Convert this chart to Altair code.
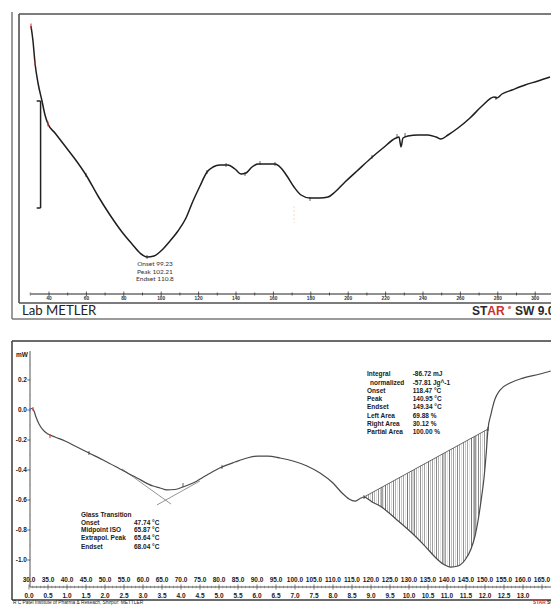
import altair as alt
import numpy as np
import pandas as pd

# ---------------- upper thermogram (Lab METLER) ----------------
top_temp = [30.37, 31.44, 32.51, 34.12, 36.26, 37.86, 39.47, 43.21, 48.56, 53.90, 59.79, 66.20,
            72.62, 79.04, 84.39, 88.66, 92.41, 96.15, 100.43, 104.71, 108.98, 113.26, 117.01,
            120.75, 124.49, 127.70, 131.44, 135.72, 139.47, 142.67, 145.35, 148.56, 151.76,
            156.04, 160.86, 164.06, 167.27, 171.02, 174.76, 179.57, 184.92, 189.20, 192.94,
            198.29, 204.71, 211.66, 218.61, 225.56, 227.17, 228.24, 229.30, 231.98, 237.33,
            242.67, 246.95, 249.63, 253.37, 258.72, 265.13, 271.55, 277.97, 279.57, 282.25,
            287.59, 294.55, 301.50, 307.92]
top_flow = [3.50, 3.20, 2.76, 2.36, 2.00, 1.72, 1.54, 1.36, 1.10, 0.84, 0.52, 0.10,
            -0.28, -0.62, -0.86, -1.04, -1.12, -1.10, -0.98, -0.80, -0.60, -0.34, 0.00,
            0.30, 0.58, 0.68, 0.72, 0.72, 0.64, 0.54, 0.56, 0.68, 0.74,
            0.74, 0.74, 0.66, 0.50, 0.28, 0.12, 0.06, 0.06, 0.08, 0.18,
            0.38, 0.60, 0.84, 1.06, 1.26, 1.28, 1.08, 1.26, 1.30, 1.32,
            1.32, 1.28, 1.24, 1.32, 1.46, 1.66, 1.90, 2.08, 2.06, 2.14,
            2.22, 2.32, 2.40, 2.48]
top_marks_red = [(30.37, 3.50), (32.51, 2.76), (39.47, 1.54)]
top_marks = [(59.79, 0.52), (92.41, -1.12), (124.49, 0.58), (134.65, 0.72), (144.81, 0.54),
             (152.83, 0.76), (160.86, 0.74), (179.57, 0.04), (212.7, 0.88), (226.1, 1.30),
             (230.4, 1.32), (279.0, 2.06)]
top_tick_major = list(range(40, 301, 20))
top_tick_minor = list(range(30, 300, 20))
top_peak_text = ["Onset 99.23", "Peak  102.21", "Endset 110.8"]

# ---------------- lower DSC curve ----------------
bot_temp = [30.26, 30.79, 31.32, 31.84, 32.63, 33.68, 35.00, 36.84, 39.47, 42.63, 45.79, 50.00,
            53.95, 58.42, 62.63, 64.47, 66.32, 68.42, 70.53, 73.16, 76.84, 80.79, 84.21, 87.37,
            90.26, 92.89, 96.05, 99.47, 103.16, 106.58, 110.00, 112.37, 114.21, 115.79, 117.11,
            118.16, 120.26, 122.37, 126.84, 131.05, 134.21, 136.84, 138.95, 141.05, 142.89,
            144.74, 146.32, 147.37, 148.16, 148.95, 149.74, 150.26, 150.79, 151.58, 152.63,
            153.95, 156.58, 160.00, 164.47, 167.30]
bot_flow = [0.007, 0.010, -0.007, -0.047, -0.093, -0.133, -0.160, -0.180, -0.207, -0.247, -0.287,
            -0.340, -0.393, -0.453, -0.507, -0.520, -0.533, -0.530, -0.513, -0.487, -0.433, -0.380,
            -0.347, -0.320, -0.307, -0.307, -0.320, -0.340, -0.373, -0.420, -0.487, -0.553, -0.593,
            -0.607, -0.590, -0.580, -0.613, -0.640, -0.733, -0.827, -0.907, -0.980, -1.027, -1.047,
            -1.040, -1.000, -0.927, -0.840, -0.740, -0.607, -0.453, -0.307, -0.127, -0.027, 0.073,
            0.133, 0.180, 0.213, 0.240, 0.260]
base_temp = [118.16, 150.79]
base_flow = [-0.580, -0.127]
tangent_a = [(54.47, -0.393), (67.37, -0.627)]
tangent_b = [(63.68, -0.633), (75.00, -0.473)]
y_ticks = [0.2, 0.0, -0.2, -0.4, -0.6, -0.8, -1.0]
y_minor = [0.3, 0.1, -0.1, -0.3, -0.5, -0.7, -0.9, -1.1]
temp_labels = [30 + 5 * i for i in range(28)]
min_labels = [0.5 * i for i in range(27)]
glass_names = ["Glass Transition", "Onset", "Midpoint ISO", "Extrapol. Peak", "Endset"]
glass_vals = ["", "47.74 °C", "65.87 °C", "65.64 °C", "68.04 °C"]
integ_names = ["Integral", "normalized", "Onset", "Peak", "Endset", "Left Area", "Right Area",
               "Partial Area"]
integ_vals = ["-86.72 mJ", "-57.81 Jg^-1", "118.47 °C", "140.95 °C", "149.34 °C", "69.88 %",
              "30.12 %", "100.00 %"]

# ---------------- scales ----------------
TX = alt.Scale(domain=[19.679, 308.45], nice=False, zero=False)
TY = alt.Scale(domain=[-2.38, 3.78], nice=False, zero=False)
BX = alt.Scale(domain=[25.263, 167.368], nice=False, zero=False)
BY = alt.Scale(domain=[-1.30, 0.4667], nice=False, zero=False)


def pos(xs, ys):
    return dict(x=alt.X("x:Q", scale=xs, axis=None), y=alt.Y("y:Q", scale=ys, axis=None))


def segs(rows, xs, ys, **mk):
    df = pd.DataFrame(rows, columns=["x", "y", "x2", "y2"])
    return alt.Chart(df).mark_rule(**mk).encode(x2="x2:Q", y2="y2:Q", **pos(xs, ys))


def texts(rows, xs, ys, **mk):
    df = pd.DataFrame(rows, columns=["x", "y", "t"])
    return alt.Chart(df).mark_text(**mk).encode(text="t:N", **pos(xs, ys))


def ticks(rows, xs, ys, **mk):
    df = pd.DataFrame(rows, columns=["x", "y"])
    return alt.Chart(df).mark_tick(**mk).encode(**pos(xs, ys))


def curve(ts, vs, xs, ys, **mk):
    df = pd.DataFrame({"x": ts, "y": vs})
    return alt.Chart(df).mark_line(**mk).encode(**pos(xs, ys))


# ---------------- upper panel ----------------
XMAX_T = 308.45
top_layers = [
    segs([(20.214, 3.78, 20.214, -2.36), (20.214, -2.36, XMAX_T, -2.36)], TX, TY,
         color="#7a7a7a", strokeWidth=1.5),
    segs([(23.957, 3.74, XMAX_T, 3.74), (23.957, 3.74, 23.957, -2.04),
          (23.957, -2.04, XMAX_T, -2.04)], TX, TY, color="#505050", strokeWidth=1.6),
    segs([(30.37, -1.86, XMAX_T, -1.86)], TX, TY, color="#222222", strokeWidth=1),
    ticks([(t, -1.86) for t in top_tick_major], TX, TY, orient="vertical", size=5,
          thickness=1, color="#222222"),
    ticks([(t, -1.86) for t in top_tick_minor], TX, TY, orient="vertical", size=3,
          thickness=1, color="#222222"),
    texts([(t, -1.965, str(t)) for t in top_tick_major], TX, TY, font="Liberation Sans",
          fontSize=4.8, fontWeight="bold", color="#333333", align="center", baseline="middle"),
    segs([(35.50, 2.0, 35.50, -0.14), (33.42, 2.0, 35.50, 2.0), (33.42, -0.14, 35.50, -0.14)],
         TX, TY, color="#222222", strokeWidth=1.5),
    segs([(171.02, -0.10, 171.02, -0.44)], TX, TY, color="#f6dcc0", strokeWidth=1,
         strokeDash=[2, 2]),
    curve(top_temp, top_flow, TX, TY, color="#1e1e1e", strokeWidth=1.5, interpolate="monotone",
          clip=True),
    ticks(top_marks, TX, TY, orient="vertical", size=4, thickness=1, color="#222222"),
    ticks(top_marks_red, TX, TY, orient="vertical", size=5, thickness=1.5, color="#dd3333"),
    texts([(96.68, -1.26 - 0.15 * i, s) for i, s in enumerate(top_peak_text)], TX, TY,
          font="Lato", fontSize=6.5, color="#333333", align="center", baseline="middle"),
    texts([(25.56, -2.20, "Lab METLER")], TX, TY, font="Lato", fontSize=13.2,
          color="#222222", align="left", baseline="middle"),
    texts([(274.4, -2.19, "ST")], TX, TY, font="Liberation Sans", fontSize=12,
          fontWeight="bold", color="#2a2a2a", align="right", baseline="middle"),
    texts([(274.4, -2.19, "AR")], TX, TY, font="Liberation Sans", fontSize=12,
          fontWeight="bold", color="#c8302c", align="left", baseline="middle"),
    texts([(285.4, -2.11, "e")], TX, TY, font="Liberation Sans", fontSize=6,
          fontWeight="bold", color="#c8302c", align="left", baseline="middle"),
    texts([(289.2, -2.19, "SW 9.01")], TX, TY, font="Liberation Sans", fontSize=12,
          fontWeight="bold", color="#2a2a2a", align="left", baseline="middle", clip=True),
]
top = alt.layer(*top_layers).properties(width=540, height=308)

# ---------------- lower panel ----------------
XMAX_B = 167.368
bdf = pd.DataFrame({"x": bot_temp, "y": bot_flow})
peak = bdf[(bdf.x >= base_temp[0]) & (bdf.x <= base_temp[1])].copy()
peak["y2"] = np.interp(peak.x, base_temp, base_flow)

hatch_grays = ["#767676", "#bdbdbd", "#9c9c9c", "#d6d6d6", "#888888", "#b2b2b2", "#e0e0e0",
               "#929292", "#c8c8c8", "#a4a4a4", "#e6e6e6"]
stops = []
n_str = 64
for i in range(n_str):
    g = hatch_grays[i % len(hatch_grays)]
    a, b, c = i / n_str, (i + 0.55) / n_str, (i + 1) / n_str
    stops += [alt.GradientStop(offset=a, color=g), alt.GradientStop(offset=b, color=g),
              alt.GradientStop(offset=b, color="#ffffff"), alt.GradientStop(offset=c, color="#ffffff")]
hatch = alt.LinearGradient(gradient="linear", stops=stops, x1=0, x2=1, y1=0, y2=0)

area = alt.Chart(peak).mark_area(color=hatch, opacity=1, interpolate="monotone").encode(
    x=alt.X("x:Q", scale=BX, axis=None), y=alt.Y("y:Q", scale=BY, axis=None), y2="y2:Q")

bot_layers = [
    segs([(25.526, 0.46, XMAX_B, 0.46), (25.526, 0.46, 25.526, -1.2667),
          (25.526, -1.2667, XMAX_B, -1.2667)], BX, BY, color="#3a3a3a", strokeWidth=1.5),
    area,
    segs([(30.263, 0.393, 30.263, -1.18), (30.263, -1.18, XMAX_B, -1.18)], BX, BY,
         color="#555555", strokeWidth=1),
    ticks([(30.263, v) for v in y_minor], BX, BY, orient="horizontal", size=2, thickness=1,
          color="#999999"),
    ticks([(29.92, v) for v in y_ticks], BX, BY, orient="horizontal", size=3, thickness=1,
          color="#333333"),
    texts([(29.47, v, f"{v:.1f}") for v in y_ticks], BX, BY, font="Liberation Sans",
          fontSize=6.5, fontWeight="bold", color="#1a1a1a", align="right", baseline="middle"),
    texts([(28.16, 0.37, "mW")], BX, BY, font="Liberation Sans", fontSize=6.5,
          fontWeight="bold", color="#1a1a1a", align="center", baseline="middle"),
    ticks([(t, -1.18) for t in range(31, 167) if t % 5], BX, BY, orient="vertical", size=2.5,
          thickness=0.8, color="#666666"),
    ticks([(t, -1.18) for t in temp_labels], BX, BY, orient="vertical", size=5, thickness=1,
          color="#444444"),
    texts([(t, -1.13, f"{t:.1f}") for t in temp_labels], BX, BY, font="Liberation Sans",
          fontSize=6.5, fontWeight="bold", color="#1a1a1a", align="center", baseline="middle"),
    texts([(30 + 10 * m, -1.2367, f"{m:.1f}") for m in min_labels], BX, BY,
          font="Liberation Sans", fontSize=6.5, fontWeight="bold", color="#1a1a1a",
          align="center", baseline="middle"),
    segs([tangent_a[0] + tangent_a[1], tangent_b[0] + tangent_b[1]], BX, BY,
         color="#777777", strokeWidth=0.8),
    segs([(base_temp[0], base_flow[0], base_temp[1], base_flow[1])], BX, BY,
         color="#444444", strokeWidth=0.8),
    curve(bot_temp, bot_flow, BX, BY, color="#4a4a4a", strokeWidth=1.2, interpolate="monotone",
          clip=True),
    ticks([(45.79, -0.287), (80.79, -0.38), (70.53, -0.50), (base_temp[0], base_flow[0]),
           (base_temp[1], base_flow[1])], BX, BY, orient="vertical", size=4, thickness=1,
          color="#222222"),
    ticks([(31.05, 0.007), (35.53, -0.173)], BX, BY, orient="vertical", size=4, thickness=1.5,
          color="#dd3333"),
    ticks([(30.26, 0.0)], BX, BY, orient="vertical", size=4, thickness=1.5, color="#5b7be0"),
    texts([(43.68, -0.702 - 0.05 * i, s) for i, s in enumerate(glass_names[:4])]
          + [(43.68, -0.911, glass_names[4])], BX, BY, font="Liberation Sans", fontSize=6.5,
          fontWeight="bold", color="#1a1a1a", align="left", baseline="middle"),
    texts([(57.63, -0.702 - 0.05 * i, s) for i, s in enumerate(glass_vals[:4])]
          + [(57.63, -0.911, glass_vals[4])], BX, BY, font="Liberation Sans", fontSize=6.5,
          fontWeight="bold", color="#1a1a1a", align="left", baseline="middle"),
    texts([(119.74 if s == "normalized" else 118.95, 0.238 - 0.0553 * i, s)
           for i, s in enumerate(integ_names)], BX, BY, font="Liberation Sans", fontSize=6.5,
          fontWeight="bold", color="#1a1a1a", align="left", baseline="middle"),
    texts([(130.97, 0.238 - 0.0553 * i, s) for i, s in enumerate(integ_vals)], BX, BY,
          font="Liberation Sans", fontSize=6.5, fontWeight="bold", color="#1a1a1a",
          align="left", baseline="middle"),
    texts([(25.79, -1.2867, "R C Patel Institute of Pharma & Reseach, Shirpur: METTLER")], BX, BY,
          font="Liberation Sans", fontSize=4.8, color="#222222", align="left",
          baseline="middle"),
    texts([(162.63, -1.2867, "STAR")], BX, BY, font="Liberation Sans", fontSize=4.8,
          fontWeight="bold", color="#c8302c", align="left", baseline="middle"),
    texts([(166.3, -1.2867, "SW")], BX, BY, font="Liberation Sans", fontSize=4.8,
          fontWeight="bold", color="#2a2a2a", align="left", baseline="middle", clip=True),
]
bottom = alt.layer(*bot_layers).properties(width=540, height=265)

chart = alt.vconcat(top, bottom, spacing=20, bounds="flush").properties(
    padding={"left": 3, "top": 3, "right": 0, "bottom": 0}
).configure_view(stroke=None)

chart.save("out.html", embed_options={"renderer": "svg", "actions": False})
